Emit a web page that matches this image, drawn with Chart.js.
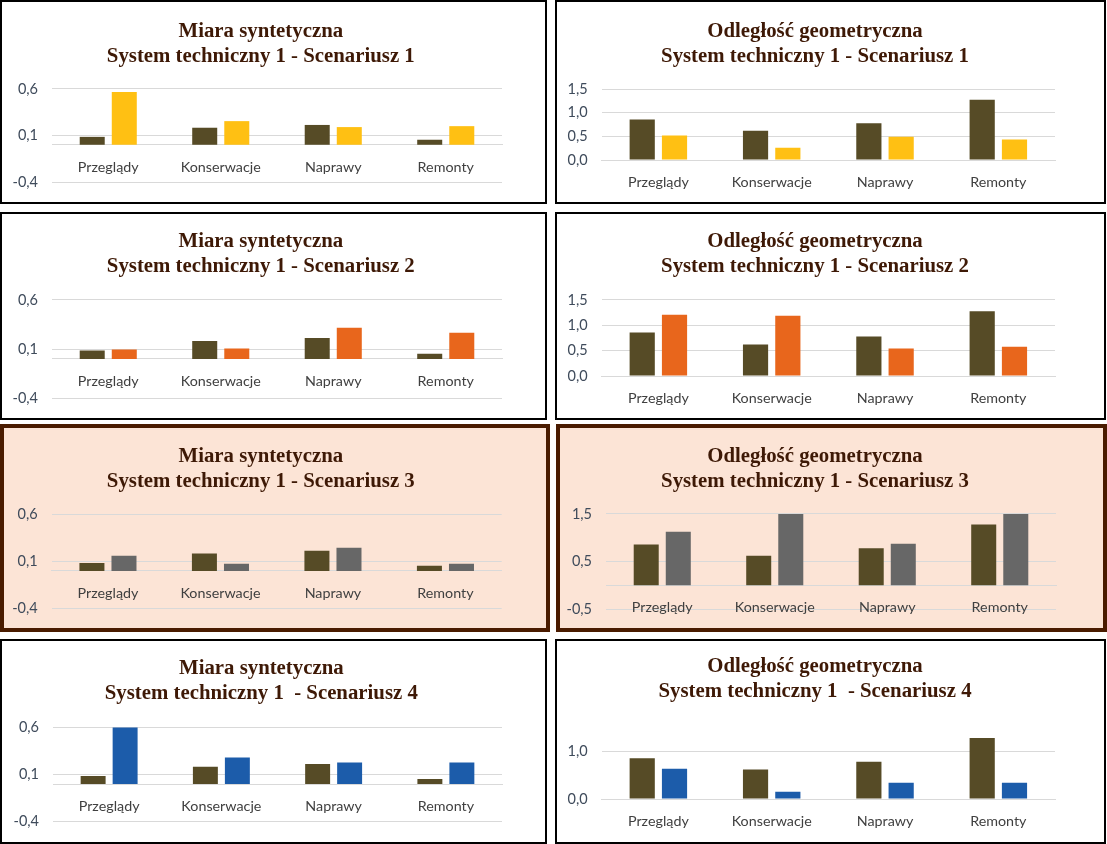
<!DOCTYPE html>
<html>
<head>
<meta charset="utf-8">
<script src="https://cdn.jsdelivr.net/npm/chart.js@4.4.1/dist/chart.umd.min.js"></script>
<style>
  html, body { margin: 0; padding: 0; background: #ffffff; }
  body { width: 1107px; height: 844px; position: relative; overflow: hidden; }
  .panel { position: absolute; box-sizing: border-box; border: 2px solid #000; background: #fff; }
  .panel.hl { border: 4px solid #4A1B00; background: #FCE4D6; }
  .panel canvas { display: block; position: absolute; left: 0; top: 0; }
</style>
</head>
<body>
<script>
// ---------- DATA ----------
const categories = ['Przeglądy', 'Konserwacje', 'Naprawy', 'Remonty'];

const miaraBase = [0.085, 0.183, 0.213, 0.054];
const miaraS1   = [0.566, 0.254, 0.190, 0.200];
const miaraS2   = [0.095, 0.105, 0.317, 0.267];
const miaraS3   = [0.161, 0.075, 0.246, 0.075];
const miaraS4   = [0.625, 0.282, 0.229, 0.229];

const odlBase = [0.856, 0.620, 0.780, 1.278];
const odlS1   = [0.517, 0.262, 0.495, 0.432];
const odlS2   = [1.210, 1.190, 0.540, 0.579];
const odlS3   = [1.127, 1.500, 0.873, 1.500];
const odlS4   = [0.636, 0.154, 0.343, 0.343];

const miaraTicks = [-0.4, 0.1, 0.6];
const odlTicks12 = [0.0, 0.5, 1.0, 1.5];
const odlTicks3  = [-0.5, 0.5, 1.5];
const odlTicks4  = [0.0, 1.0];

const titleMiara = 'Miara syntetyczna';
const titleOdl   = 'Odległość geometryczna';
const subtitles  = [
  'System techniczny 1 - Scenariusz 1',
  'System techniczny 1 - Scenariusz 2',
  'System techniczny 1 - Scenariusz 3',
  'System techniczny 1  - Scenariusz 4'
];

// ---------- COLOURS ----------
const baseColor = '#564B26';
const scenColors = ['#FFC013', '#E8661C', '#676767', '#1C5CAA'];

// ---------- PANELS (layout only) ----------
const EXTRA = 8; // canvas extends below panel interior so bottom padding can stay small
const panels = [
  {x:0,   y:0,   w:547, h:204, hl:false, title:[titleMiara, subtitles[0]], base:miaraBase, scen:miaraS1, c:0, min:-0.4, max:0.6, ticks:miaraTicks, yW:50,   padR:43,   padB:20,   tT:17.5, tB:19.5, tc:258.8},
  {x:555, y:0,   w:551, h:204, hl:false, title:[titleOdl,   subtitles[0]], base:odlBase,   scen:odlS1,   c:0, min:0,    max:1.5, ticks:odlTicks12, yW:44.7, padR:49,   padB:42,   tT:17.5, tB:19.8, tc:258},
  {x:0,   y:212, w:547, h:208, hl:false, title:[titleMiara, subtitles[1]], base:miaraBase, scen:miaraS2, c:1, min:-0.4, max:0.6, ticks:miaraTicks, yW:50,   padR:43,   padB:19.7, tT:15.5, tB:20.5, tc:258.8},
  {x:555, y:212, w:551, h:208, hl:false, title:[titleOdl,   subtitles[1]], base:odlBase,   scen:odlS2,   c:1, min:0,    max:1.5, ticks:odlTicks12, yW:44.7, padR:49,   padB:42,   tT:15.5, tB:20.5, tc:258},
  {x:0,   y:424, w:550, h:208, hl:true,  title:[titleMiara, subtitles[2]], base:miaraBase, scen:miaraS3, c:2, min:-0.4, max:0.6, ticks:miaraTicks, yW:47.7, padR:44.3, padB:19.3, tT:16.5, tB:19.8, tc:256.8},
  {x:556, y:424, w:551, h:208, hl:true,  title:[titleOdl,   subtitles[2]], base:odlBase,   scen:odlS3,   c:2, min:-0.5, max:1.5, ticks:odlTicks3,  yW:46,   padR:47,   padB:19,   tT:16.5, tB:19.5, tc:255},
  {x:0,   y:639, w:547, h:205, hl:false, title:[titleMiara, subtitles[3]], base:miaraBase, scen:miaraS4, c:3, min:-0.4, max:0.6, ticks:miaraTicks, yW:51,   padR:43,   padB:20.3, tT:15.2, tB:21.5, tc:259.3},
  {x:555, y:639, w:551, h:205, hl:false, title:[titleOdl,   subtitles[3]], base:odlBase,   scen:odlS4,   c:3, min:0,    max:1.5, ticks:odlTicks4,  yW:44.7, padR:49,   padB:43,   tT:13.5, tB:23,   tc:258}
];

const fmt = v => Number(v).toFixed(1).replace('.', ',');

// re-centres the title block on a given x (canvas coords)
const titleShift = {
  id: 'titleShift',
  afterLayout(chart, args, opts) {
    const tb = chart.titleBlock;
    if (!tb || opts.center == null) return;
    tb.left = opts.center - 270;
    tb.right = opts.center + 270;
  }
};

panels.forEach((p) => {
  const div = document.createElement('div');
  div.className = 'panel' + (p.hl ? ' hl' : '');
  div.style.left = p.x + 'px';
  div.style.top = p.y + 'px';
  div.style.width = p.w + 'px';
  div.style.height = p.h + 'px';
  const b = p.hl ? 4 : 2;
  const cw = p.w - 2 * b, ch = p.h - 2 * b + EXTRA;
  const cv = document.createElement('canvas');
  cv.width = cw; cv.height = ch;
  cv.style.width = cw + 'px'; cv.style.height = ch + 'px';
  div.appendChild(cv);
  document.body.appendChild(div);

  const tickVals = p.ticks;
  new Chart(cv.getContext('2d'), {
    type: 'bar',
    plugins: [titleShift],
    data: {
      labels: categories,
      datasets: [
        { label: 'Stan bazowy', data: p.base, backgroundColor: baseColor, borderWidth: 0,
          categoryPercentage: 0.57, barPercentage: 0.78 },
        { label: 'Scenariusz ' + (p.c + 1), data: p.scen, backgroundColor: scenColors[p.c], borderWidth: 0,
          categoryPercentage: 0.57, barPercentage: 0.78 }
      ]
    },
    options: {
      responsive: false,
      animation: false,
      devicePixelRatio: 1,
      layout: { padding: { left: 0, right: p.padR, top: 0, bottom: p.padB + EXTRA } },
      plugins: {
        legend: { display: false },
        tooltip: { enabled: false },
        titleShift: { center: p.tc },
        title: {
          display: true,
          text: p.title,
          color: '#3E1906',
          font: { family: '"Liberation Serif", "Times New Roman", serif', size: 20.8, weight: 'bold', lineHeight: 1.2 },
          padding: { top: p.tT, bottom: p.tB }
        }
      },
      scales: {
        x: {
          position: { y: 0 },
          grid: { display: false, drawTicks: false },
          border: { display: true, color: '#D9D9D9', width: 1 },
          ticks: { color: '#404040', padding: 14, maxRotation: 0, autoSkip: false,
                   font: { family: 'Lato, "Open Sans", sans-serif', size: 14.3 } }
        },
        y: {
          min: p.min, max: p.max,
          afterBuildTicks: s => { s.ticks = tickVals.map(v => ({ value: v })); },
          afterFit: s => { s.width = p.yW; },
          grid: { color: '#D9D9D9', drawTicks: false, lineWidth: 1 },
          border: { display: false },
          ticks: { color: '#3F4B5B', padding: 14, callback: v => fmt(v),
                   font: { family: 'Lato, "Open Sans", sans-serif', size: 14.5 } }
        }
      }
    }
  });
});
</script>
</body>
</html>
